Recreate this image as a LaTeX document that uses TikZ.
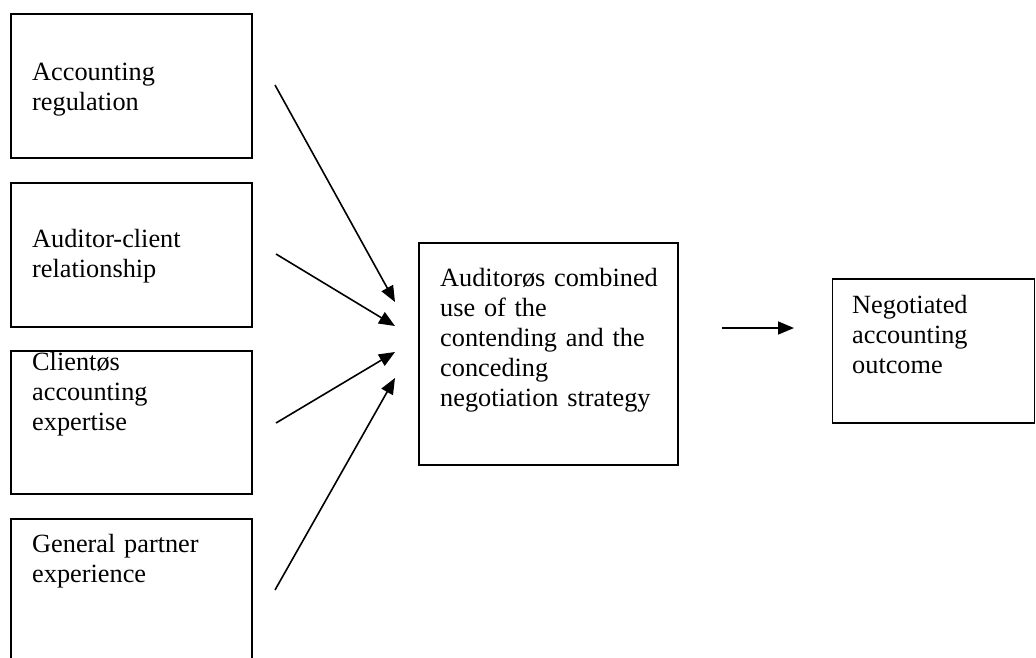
\documentclass[tikz,border=0pt]{standalone}
\usepackage{fontspec}
\setmainfont{Liberation Serif}
\usetikzlibrary{arrows.meta}
\begin{document}
\begin{tikzpicture}[x=1pt,y=-1pt,
  box/.style={draw=black,line width=1.4pt,rectangle,inner sep=0pt},
  lbl/.style={anchor=base west,inner sep=0pt,text width=235pt,align=left,
    font=\fontsize{26.3}{30}\selectfont},
  conn/.style={line width=1.6pt,-{Triangle[length=16pt,width=13pt]}}]
\useasboundingbox (0,0) rectangle (1036,657);
\clip (0,0) rectangle (1036,657);
% boxes
\node[box,minimum width=241pt,minimum height=144pt] (b1) at (131.5,86) {};
\node[box,minimum width=241pt,minimum height=144pt] (b2) at (131.5,255) {};
\node[box,minimum width=241pt,minimum height=143pt] (b3) at (131.5,422.5) {};
\node[box,minimum width=241pt,minimum height=144pt] (b4) at (131.5,591) {};
\node[box,minimum width=259pt,minimum height=222pt] (mid) at (548.5,354) {};
\node[box,minimum width=202pt,minimum height=144pt] (out) at (933.5,351) {};
% texts
\node[lbl] (t1) at (32,80) {Accounting\\regulation};
\node[lbl] (t2) at (32,247) {Auditor-client\\relationship};
\node[lbl] (t3) at (32,370) {Clientøs\\accounting\\expertise};
\node[lbl] (t4) at (32,552) {General partner\\experience};
\node[lbl] (tm) at (440,286) {Auditorøs combined\\use of the\\contending and the\\conceding\\negotiation strategy};
\node[lbl] (to) at (852,313) {Negotiated\\accounting\\outcome};
% connector ends
\coordinate (s1) at (275,85);
\coordinate (s2) at (276,254);
\coordinate (s3) at (276,423);
\coordinate (s4) at (275,590);
\coordinate (e1) at (395,302);
\coordinate (e2) at (395,326);
\coordinate (e3) at (395,352);
\coordinate (e4) at (395,378);
\coordinate (s5) at (722,328);
\coordinate (e5) at (794,328);
\draw[conn] (s1) -- (e1);
\draw[conn] (s2) -- (e2);
\draw[conn] (s3) -- (e3);
\draw[conn] (s4) -- (e4);
\draw[conn] (s5) -- (e5);
\end{tikzpicture}
\end{document}
